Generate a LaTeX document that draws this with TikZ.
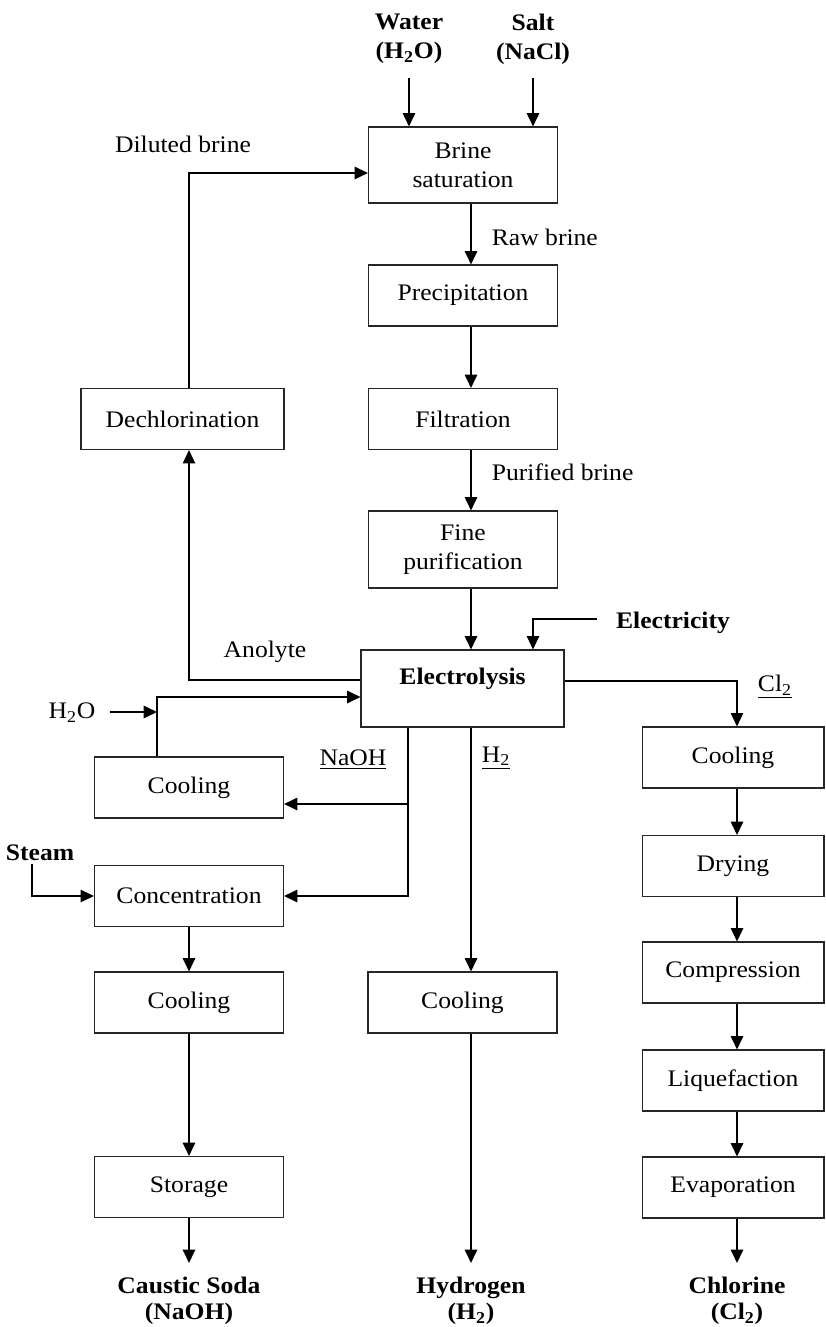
\documentclass[tikz,border=0pt]{standalone}
\usepackage{fontspec}
\setmainfont{Liberation Serif}[FakeStretch=1.08]
\usetikzlibrary{arrows.meta}
\newcommand{\flowfont}{\fontsize{13.5}{16.5}\selectfont}
\tikzset{
  unit/.style   = {draw=black!85, line width=0.6pt, minimum width=3.78cm,
                   minimum height=1.22cm, align=center, inner sep=2pt, font=\flowfont},
  flow/.style   = {-{Triangle[length=7.6pt,width=7pt]}, line width=1.1pt},
  feed/.style   = {font=\flowfont\bfseries, align=center, inner sep=2pt},
  product/.style = {feed, anchor=north, inner ysep=7.5pt},
  stream/.style = {font=\flowfont, inner sep=2pt}
}

\begin{document}
\begin{tikzpicture}[x=0.02cm, y=-0.02cm]
  \useasboundingbox (0,0) rectangle (825,1327);
  % columns used by the connectors
  \coordinate (mainx)  at (471,0);
  \coordinate (leftx)  at (189,0);
  \coordinate (recx)   at (157,0);
  \coordinate (nax)    at (408,0);
  \coordinate (clx)    at (737,0);

  % brine loop
  \node[unit, minimum height=1.52cm] (brsat) at (463,165) {Brine\\saturation};
  \node[unit] (precip)  at (463,295.5) {Precipitation};
  \node[unit] (filtr)   at (463,419) {Filtration};
  \node[unit, minimum height=1.54cm] (finepur) at (463,549.5) {Fine\\purification};
  \node[unit, minimum width=4.06cm, minimum height=1.54cm,
        label={[font=\flowfont\bfseries, yshift=0.2cm]center:Electrolysis}] (elec) at (462.5,688.5) {};
  \node[unit, minimum width=4.06cm] (dechl) at (182.5,419) {Dechlorination};

  % caustic soda line
  \node[unit] (coolna)  at (189,787.5) {Cooling};
  \node[unit] (conc)    at (189,896) {Concentration};
  \node[unit] (coolna2) at (189,1002.5) {Cooling};
  \node[unit] (storage) at (189,1187) {Storage};

  % hydrogen line
  \node[unit] (coolh)   at (462.5,1002.5) {Cooling};

  % chlorine line
  \node[unit, minimum width=3.64cm] (coolcl) at (733,757.5) {Cooling};
  \node[unit, minimum width=3.64cm] (drying) at (733,866) {Drying};
  \node[unit, minimum width=3.64cm] (compr)  at (733,972.5) {Compression};
  \node[unit, minimum width=3.64cm] (liquef) at (733,1080.5) {Liquefaction};
  \node[unit, minimum width=3.64cm] (evap)   at (733,1187.5) {Evaporation};

  % feeds and products
  \node[feed] (water) at (409,39) {Water\\(H\textsubscript{2}O)};
  \node[feed] (salt)  at (533,39) {Salt\\(NaCl)};
  \node[feed] (power) at (673,623) {Electricity};
  \node[feed] (steam) at (40,853) {Steam};
  \node[stream] (h2oin) at (72,713) {H\textsubscript{2}O};
  \node[product] (soda)  at (189,1263) {Caustic Soda\\[-1.5pt](NaOH)};
  \node[product] (hydro) at (471,1263) {Hydrogen\\[-1.5pt](H\textsubscript{2})};
  \node[product] (chlor) at (737,1263) {Chlorine\\[-1.5pt](Cl\textsubscript{2})};

  % stream labels
  \node[stream] (dillbl) at (183,144) {Diluted brine};
  \node[stream, anchor=west] (rawlbl) at (488,237) {Raw brine};
  \node[stream, anchor=west] (purlbl) at (488,472) {Purified brine};
  \node[stream] (anolbl) at (265,652) {Anolyte};
  \node[stream] (nalbl)  at (353,760) {\underline{NaOH}};
  \node[stream, anchor=west] (h2lbl) at (478,758) {\underline{H\textsubscript{2}}};
  \node[stream] (cllbl)  at (775,687) {\underline{Cl\textsubscript{2}}};

  % free ends of the feed lines
  \coordinate (waterin) at (409,78);
  \coordinate (saltin)  at (533,78);
  \coordinate (powerin) at (597,619);
  \coordinate (h2ostart) at (110,712);
  \coordinate (steamin) at (32,864);
  \coordinate (nabr)    at (408,804);

  % feeds
  \draw[flow] (waterin) -- (waterin |- brsat.north);
  \draw[flow] (saltin) -- (saltin |- brsat.north);
  \draw[flow, line width=0.7pt] (powerin) -| ([xshift=1.41cm]elec.north);
  \draw[flow] (h2ostart) -- (h2ostart -| recx);
  \draw[flow, line width=0.7pt] (steamin) |- (conc.west);

  % brine purification
  \draw[flow] (brsat.south -| mainx) -- (precip.north -| mainx);
  \draw[flow] (precip.south -| mainx) -- (filtr.north -| mainx);
  \draw[flow] (filtr.south -| mainx) -- (finepur.north -| mainx);
  \draw[flow] (finepur.south -| mainx) -- (elec.north -| mainx);

  % anolyte back to saturation
  \draw[flow, line width=0.8pt] ([yshift=0.17cm]elec.west) -| (dechl.south -| leftx);
  \draw[flow] (dechl.north -| leftx) |- ([yshift=-0.16cm]brsat.west);

  % caustic soda
  \draw[flow] (coolna.north -| recx) |- ([yshift=-0.17cm]elec.west);
  \draw[flow] (elec.south -| nax) |- (conc.east);
  \draw[flow] (nabr) -- (nabr -| coolna.east);
  \draw[flow] (conc.south) -- (coolna2.north);
  \draw[flow] (coolna2.south) -- (storage.north);
  \draw[flow] (storage.south) -- (soda.north);

  % hydrogen
  \draw[flow] (elec.south -| mainx) -- (coolh.north -| mainx);
  \draw[flow] (coolh.south -| mainx) -- (hydro.north);

  % chlorine
  \draw[flow, line width=0.7pt] ([yshift=0.15cm]elec.east) -| (coolcl.north -| clx);
  \draw[flow] (coolcl.south -| clx) -- (drying.north -| clx);
  \draw[flow] (drying.south -| clx) -- (compr.north -| clx);
  \draw[flow] (compr.south -| clx) -- (liquef.north -| clx);
  \draw[flow] (liquef.south -| clx) -- (evap.north -| clx);
  \draw[flow] (evap.south -| clx) -- (chlor.north);
\end{tikzpicture}
\end{document}
